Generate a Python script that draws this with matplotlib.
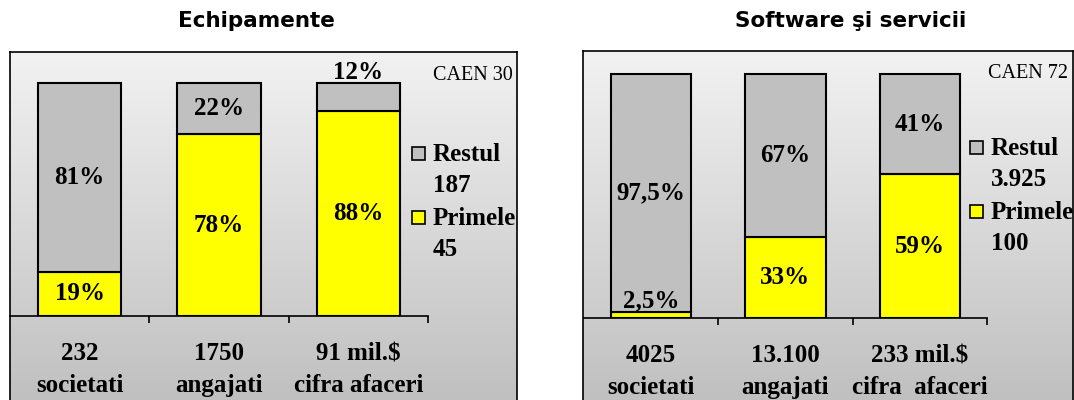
import numpy as np
import matplotlib

matplotlib.use("Agg")
import matplotlib.pyplot as plt

# ---------------------------------------------------------------------------
# Data
# ---------------------------------------------------------------------------

title_30 = "Echipamente"
code_30 = "CAEN 30"
categories_30 = ["232\nsocietati", "1750\nangajati", "91 mil.$\ncifra afaceri"]
primele_30 = [19, 78, 88]
restul_30 = [81, 22, 12]
legend_30 = ["Restul\n187", "Primele\n45"]

title_72 = "Software şi servicii"
code_72 = "CAEN 72"
categories_72 = ["4025\nsocietati", "13.100\nangajati", "233 mil.$\ncifra  afaceri"]
primele_72 = [2.5, 33, 59]
restul_72 = [97.5, 67, 41]
legend_72 = ["Restul\n3.925", "Primele\n100"]

# ---------------------------------------------------------------------------
# Style
# ---------------------------------------------------------------------------

W, H = 1074, 400
GRAY = "#c0c0c0"
YELLOW = "#ffff00"
SERIF = "Liberation Serif"
FS = 18

fig = plt.figure(figsize=(W / 100, H / 100), dpi=100)


def fx(px):
    return px / W


def fy(py):
    # pixel row (from top) -> figure fraction (from bottom)
    return 1 - py / H


def pct(v):
    return f"{v:g}%".replace(".", ",")


def draw_panel(frame, axis_x, base, top, title, title_x, code, code_xy,
               cats, primele, restul, legend, leg_x, leg_y):
    fx0, fy0, fx1 = frame
    # framed background with a vertical grey gradient
    bg = fig.add_axes([fx(fx0), 0, fx(fx1 - fx0), fy(fy0)])
    grad = np.linspace(242, 192, 256)[:, None] / 255.0
    bg.imshow(np.dstack([grad] * 3), aspect="auto", extent=[0, 1, 0, 1],
              interpolation="bilinear")
    bg.set_xticks([])
    bg.set_yticks([])
    bg.spines["bottom"].set_visible(False)
    for s in ("left", "top", "right"):
        bg.spines[s].set_linewidth(1.2)

    fig.text(fx(title_x), fy(21), title, ha="center", va="center",
             fontsize=15.5, fontweight="bold", family="DejaVu Sans")

    # bar axes: baseline at `base`, 100% at `top`
    ax0, ax1 = axis_x
    ax = fig.add_axes([fx(ax0), fy(base), fx(ax1 - ax0), (base - fy0) / H])
    ax.patch.set_visible(False)
    ax.set_xlim(-0.5, 2.5)
    ax.set_ylim(0, 100 * (base - fy0) / (base - top))
    for s in ("left", "top", "right"):
        ax.spines[s].set_visible(False)
    ax.spines["bottom"].set_linewidth(1.2)

    x = np.arange(len(cats))
    ax.bar(x, primele, width=0.6, color=YELLOW, edgecolor="black", lw=1.5,
           zorder=2)
    ax.bar(x, restul, width=0.6, bottom=primele, color=GRAY,
           edgecolor="black", lw=1.5, zorder=2)

    # value labels, small segments get their label just above
    for i in range(len(cats)):
        for lo, v in ((0, primele[i]), (primele[i], restul[i])):
            if v < 15:
                y, va = lo + v + 1.8, "baseline"
            else:
                y, va = lo + v / 2, "center"
            ax.text(x[i], y, pct(v), ha="center", va=va, fontsize=FS,
                    fontweight="bold", family=SERIF, zorder=3)

    ax.set_yticks([])
    ax.set_xticks(x)
    ax.set_xticklabels(cats, fontsize=FS, fontweight="bold", family=SERIF,
                       linespacing=1.5)
    ax.tick_params(axis="x", which="major", length=0, pad=19)
    ax.set_xticks([0.5, 1.5, 2.5], minor=True)
    ax.tick_params(axis="x", which="minor", length=5, width=1.2,
                   direction="out")

    fig.text(fx(code_xy[0]), fy(code_xy[1]), code, ha="left", va="center",
             fontsize=14.5, family=SERIF)

    # legend: square marker aligned with the first line of each entry
    for k, (lab, col) in enumerate(zip(legend, (GRAY, YELLOW))):
        yk = leg_y + k * 64
        fig.patches.append(plt.Rectangle(
            (fx(leg_x), fy(yk + 7)), fx(13), 13 / H, transform=fig.transFigure,
            facecolor=col, edgecolor="black", lw=1.2))
        fig.text(fx(leg_x + 21), fy(yk - 10), lab, ha="left", va="top",
                 fontsize=FS, fontweight="bold", family=SERIF,
                 linespacing=1.45)


draw_panel((10, 52, 517), (10, 428), 316, 83, title_30, 256, code_30,
           (433, 75), categories_30, primele_30, restul_30, legend_30,
           412, 153)
draw_panel((583, 51, 1073), (584, 987), 318, 74, title_72, 851, code_72,
           (988, 73), categories_72, primele_72, restul_72, legend_72,
           970, 147)

fig.savefig("out.png", dpi=100)
